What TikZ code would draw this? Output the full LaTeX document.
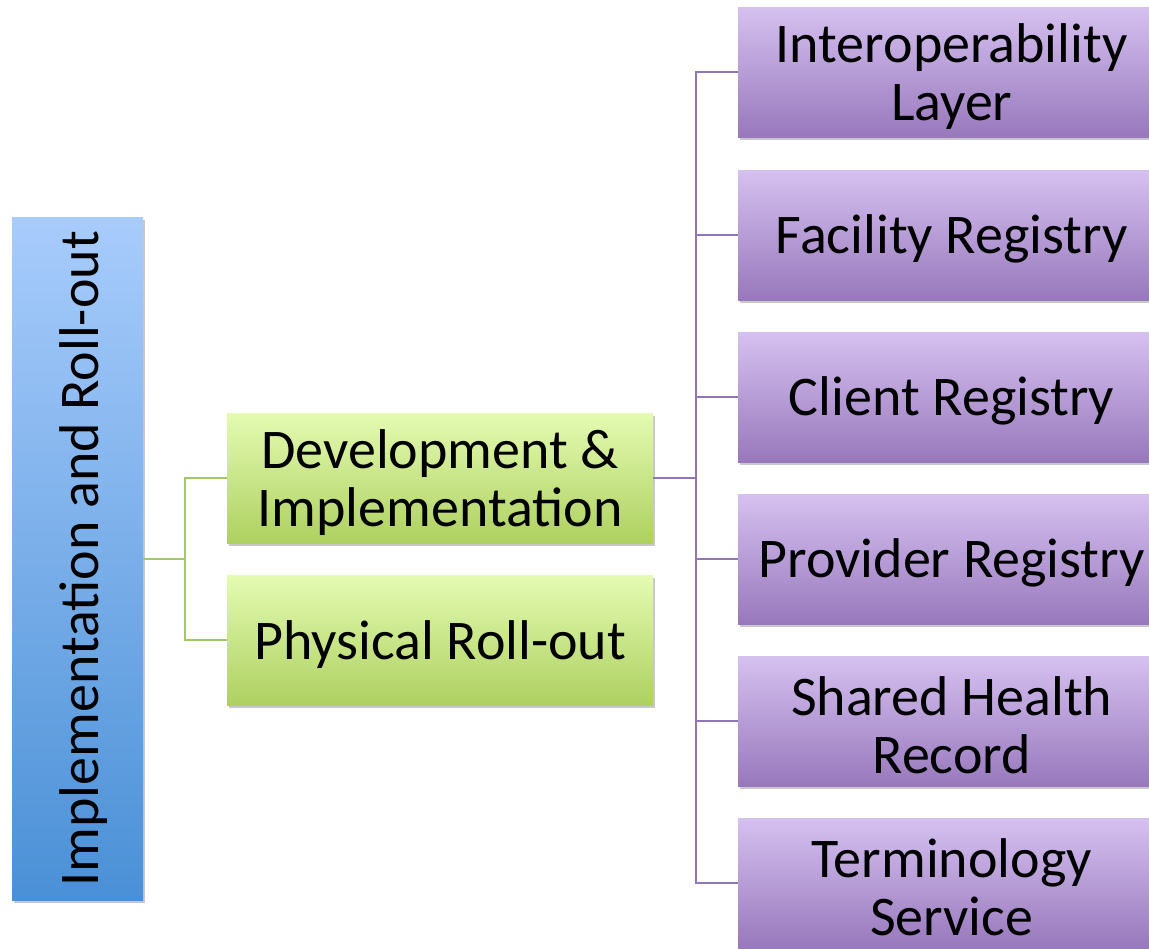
\documentclass[tikz,border=0pt]{standalone}
\usepackage{fontspec}
\setmainfont{Carlito}
\usetikzlibrary{shadows}
\definecolor{bluetop}{RGB}{168,204,252}
\definecolor{bluebot}{RGB}{74,144,214}
\definecolor{greentop}{RGB}{228,251,178}
\definecolor{greenbot}{RGB}{174,208,96}
\definecolor{purptop}{RGB}{213,193,240}
\definecolor{purpbot}{RGB}{152,120,188}
\definecolor{gline}{RGB}{164,198,108}
\definecolor{pline}{RGB}{146,116,184}
\begin{document}
\begin{tikzpicture}[x=1pt,y=-1pt,
  boxbase/.style={draw=none, inner sep=0pt, anchor=north west,
    drop shadow={shadow xshift=1.5pt, shadow yshift=-3pt, opacity=0.3, fill=black!70}},
  rootbox/.style={boxbase, minimum width=131pt, minimum height=683pt, top color=bluetop, bottom color=bluebot},
  greenbox/.style={boxbase, minimum width=426pt, minimum height=130pt, top color=greentop, bottom color=greenbot},
  purpbox/.style={boxbase, minimum width=427pt, minimum height=130pt, top color=purptop, bottom color=purpbot},
  txt/.style={inner sep=0pt, align=center, font=\fontsize{56}{58}\selectfont, text=black},
  glink/.style={draw=gline, line width=2pt},
  plink/.style={draw=pline, line width=2pt}]
\useasboundingbox (0,0) rectangle (1149,949);
\clip (0,0) rectangle (1149,949);
\fill[white] (0,0) rectangle (1149,949);

\node[rootbox] (root) at (12,217) {};
\node[txt, rotate=90] (roottext) at ([xshift=6pt]root.center) {Implementation and Roll-out};

\node[greenbox] (dev) at (227,413) {};
\node[greenbox] (phys) at (227,575) {};
\node[txt] (devt) at ([yshift=-4pt]dev.center) {Development \&\\Implementation};
\node[txt] (physt) at ([yshift=-4pt]phys.center) {Physical Roll-out};

\node[purpbox] (p1) at (738,7) {};
\node[purpbox] (p2) at (738,170) {};
\node[purpbox] (p3) at (738,332) {};
\node[purpbox] (p4) at (738,494) {};
\node[purpbox] (p5) at (738,656) {};
\node[purpbox] (p6) at (738,818) {};
\node[txt] (p1t) at ([yshift=-4pt]p1.center) {Interoperability\\Layer};
\node[txt] (p2t) at ([yshift=-4pt]p2.center) {Facility Registry};
\node[txt] (p3t) at ([yshift=-4pt]p3.center) {Client Registry};
\node[txt] (p4t) at ([yshift=-4pt]p4.center) {Provider Registry};
\node[txt] (p5t) at ([yshift=-4pt]p5.center) {Shared Health\\Record};
\node[txt] (p6t) at ([yshift=-4pt]p6.center) {Terminology\\Service};

\coordinate (gj) at ([xshift=42pt]root.east);
\draw[glink] (root.east) -- (gj);
\draw[glink] (gj) |- (dev.west);
\draw[glink] (gj) |- (phys.west);

\coordinate (pj) at ([xshift=43pt]dev.east);
\draw[plink] (dev.east) -- (pj);
\foreach \n in {p1,p2,p3,p4,p5,p6} {
  \draw[plink] (pj) |- (\n.west);
}
\end{tikzpicture}
\end{document}
